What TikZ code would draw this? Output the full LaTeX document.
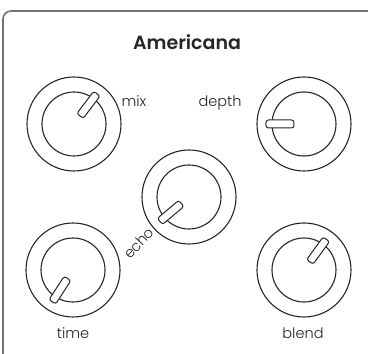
\documentclass[tikz,border=0pt]{standalone}
\usepackage{fontspec}
\setmainfont{Poppins Light}
\newfontfamily\titlef{Poppins SemiBold}
\usetikzlibrary{calc}
\begin{document}
\begin{tikzpicture}[x=1pt,y=1pt,
  knobouter/.style={circle, draw=black!85, line width=1.1pt, minimum size=94pt, inner sep=0pt},
  knobinner/.style={circle, draw=black!85, line width=1.1pt, minimum size=64pt, inner sep=0pt},
  pointer/.style={rectangle, draw=black!85, fill=white, line width=1pt, rounded corners=2.5pt,
     minimum width=28pt, minimum height=8pt, inner sep=0pt},
  lbl/.style={font=\fontsize{14.5}{14.5}\selectfont, text=black!85, inner sep=0pt},
  frame/.style={draw=black!55, line width=1.6pt, rounded corners=8pt}
]
\useasboundingbox (0,0) rectangle (368,354);
\clip (0,0) rectangle (368,354);
\fill[white] (0,0) rectangle (368,354);
\draw[frame] (3,-20) -- (3,343) -- (390,343);

\node[lbl, font=\fontsize{19}{19}\selectfont\titlef, anchor=base] (title) at (187,304) {Americana};

% knobs
\foreach \n/\x/\y/\a in {mix/74/230/53, depth/304/230/180, echo/189/157/220, time/73/84/237, blend/304/84/54}{
  \node[knobouter] (\n) at (\x,\y) {};
  \node[knobinner] (\n-in) at (\x,\y) {};
  \node[pointer, rotate=\a] (\n-ptr) at ($(\n)+(\a:24)$) {};
}

\node[lbl, anchor=base] (mixl) at (134,247) {mix};
\node[lbl, anchor=base] (depthl) at (220,247) {depth};
\node[lbl, anchor=base] (timel) at (73,15) {time};
\node[lbl, anchor=base] (blendl) at (303,15) {blend};
\node[lbl, rotate=47] (echol) at (139,111) {echo};
\end{tikzpicture}
\end{document}
